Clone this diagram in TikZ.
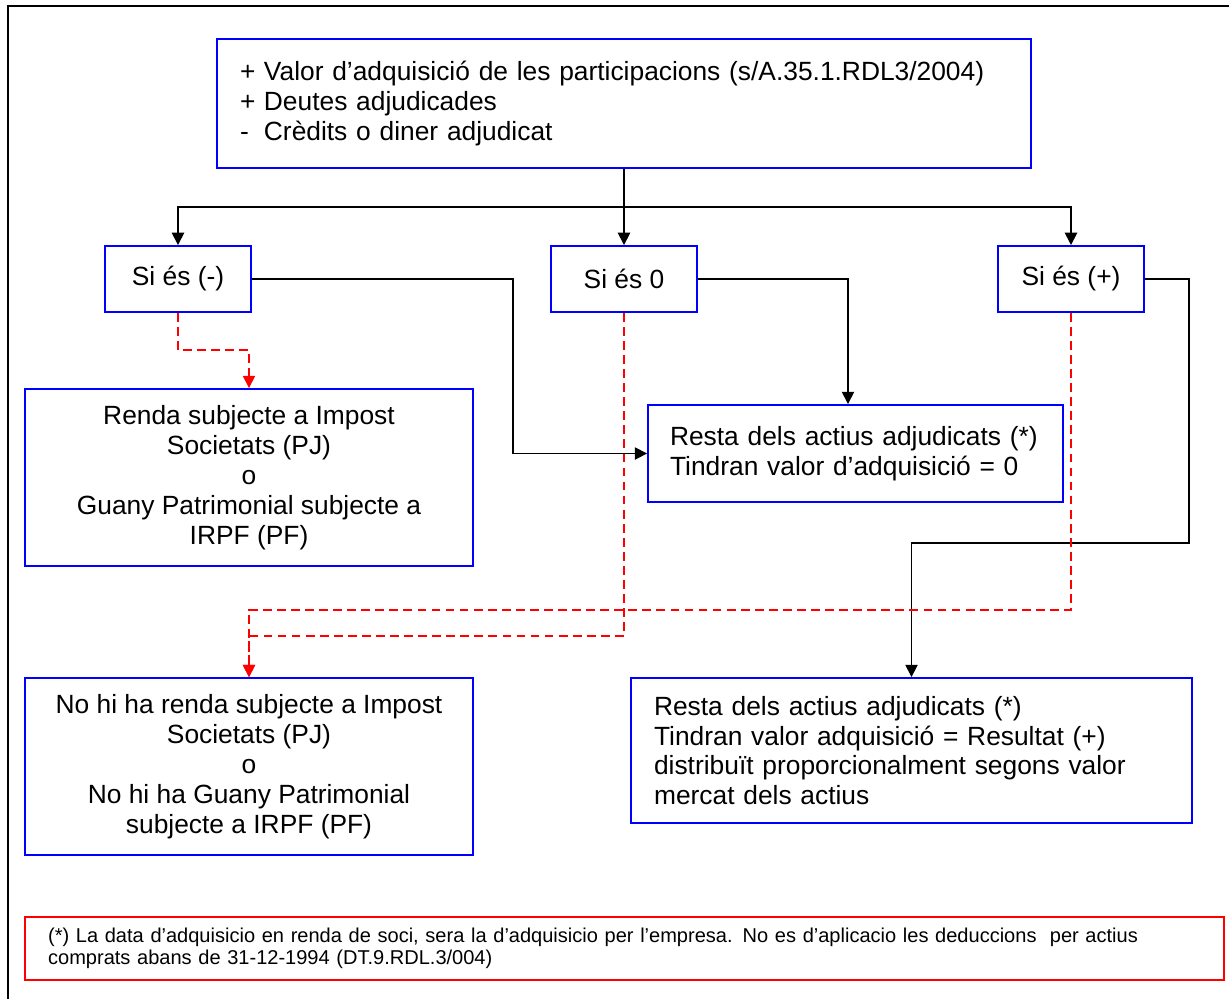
\documentclass[tikz,border=0pt]{standalone}
\usepackage{fontspec}
\setmainfont{Liberation Sans}
\usetikzlibrary{arrows.meta,positioning,calc}

\newcommand{\lead}[1]{\makebox[13.6pt][l]{#1}}

\begin{document}
\begin{tikzpicture}[x=0.02cm,y=-0.02cm,
  box/.style={draw=blue, line width=1.1pt, inner sep=0pt, font=\fontsize{15}{17}\selectfont},
  notebox/.style={draw=red, line width=1.1pt, inner sep=0pt, font=\fontsize{11.4}{12.5}\selectfont},
  arr/.style={-{Triangle[width=7pt,length=7pt]}, line width=0.9pt},
  redarr/.style={-{Triangle[width=7pt,length=7pt]}, draw=red, line width=0.9pt, dash pattern=on 5pt off 3pt},
  ]
  \useasboundingbox (0,0) rectangle (1229,998);
  % frame
  \draw [line width=1.4pt] (8,1010) -- (8,6) -- (1240,6);

  % boxes
  \node (top) [box, minimum width=16.28cm, minimum height=2.58cm, text width=15.36cm, align=left] at (624,103.5)
    {\lead{+}Valor d’adquisició de les participacions (s/A.35.1.RDL3/2004)\\
     \lead{+}Deutes adjudicades\\
     \lead{-}Crèdits o diner adjudicat};
  \node (neg) [box, minimum width=2.92cm, minimum height=1.32cm] at (178,279) {Si és (-)};
  \node (zero) [box, minimum width=2.92cm, minimum height=1.32cm] at (624,279) {Si és 0};
  \node (pos) [box, minimum width=2.92cm, minimum height=1.32cm] at (1071,279) {Si és (+)};
  \node (renda) [box, minimum width=8.96cm, minimum height=3.54cm, align=center] at (249,477.5)
    {Renda subjecte a Impost\\ Societats (PJ)\\ o\\ Guany Patrimonial subjecte a\\ IRPF (PF)};
  \node (rest0) [box, minimum width=8.3cm, minimum height=1.94cm, text width=7.42cm, align=left] at (855.5,453.5)
    {Resta dels actius adjudicats (*)\\ Tindran valor d’adquisició = 0};
  \node (nohi) [box, minimum width=8.96cm, minimum height=3.54cm, align=center] at (249,766.5)
    {No hi ha renda subjecte a Impost\\ Societats (PJ)\\ o\\ No hi ha Guany Patrimonial\\ subjecte a IRPF (PF)};
  \node (restP) [box, minimum width=11.22cm, minimum height=2.9cm, text width=10.3cm, align=left] at (911.5,750.5)
    {Resta dels actius adjudicats (*)\\ Tindran valor adquisició = Resultat (+)\\ distribuït proporcionalment segons valor\\ mercat dels actius};
  \node (note) [notebox, minimum width=23.98cm, minimum height=1.26cm, text width=23.06cm, align=left] at (624.5,948.5)
    {(*) La data d’adquisicio en renda de soci, sera la d’adquisicio per l’empresa. No es d’aplicacio les deduccions \ per actius\\
     comprats abans de 31-12-1994 (DT.9.RDL.3/004)};

  % bends
  \coordinate (split) at (624,207);
  \coordinate (bendA) at (513,279);
  \coordinate (bendB) at (848,279);
  \coordinate (bendC) at (1189,543);
  \coordinate (rm) at (214,350);
  \coordinate (zm) at (437,636);
  \coordinate (pm) at (660,610);

  % black connectors
  \draw [arr] (top.south) -- (zero.north);
  \draw [arr] (split) -| (neg.north);
  \draw [arr] (split) -| (pos.north);
  \draw [arr] (neg.east) -- (bendA) |- (rest0.west);
  \draw [arr] (zero.east) -- (bendB) -- (bendB |- rest0.north);
  \draw [arr] (pos.east) -| (bendC) -| (restP.north);

  % red dashed connectors
  \draw [redarr] (neg.south) |- (rm) -| (renda.north);
  \draw [redarr] (zero.south) |- (zm) -| (nohi.north);
  \draw [redarr] (pos.south) |- (pm) -| (nohi.north);
\end{tikzpicture}
\end{document}
